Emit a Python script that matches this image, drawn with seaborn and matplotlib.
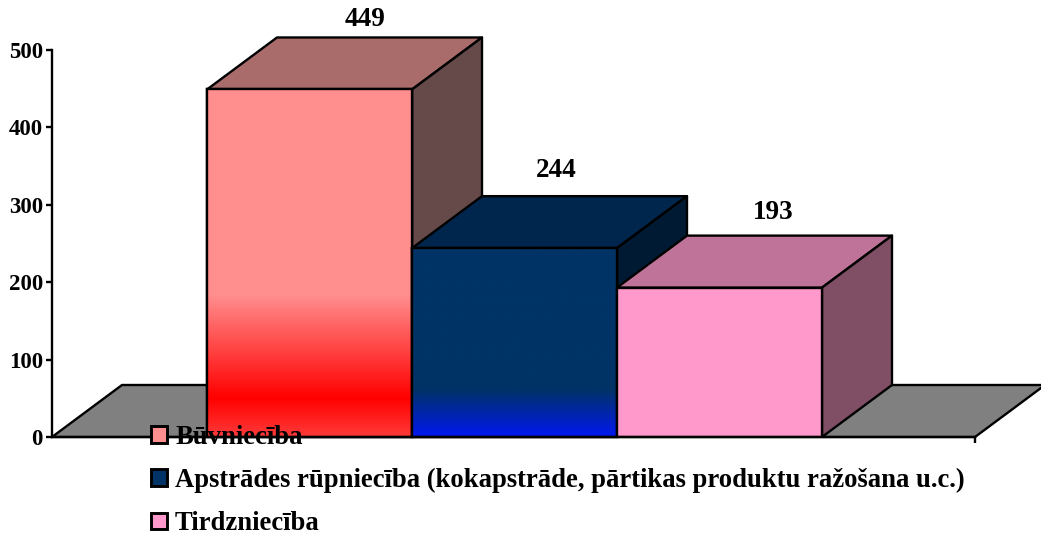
import numpy as np
import pandas as pd
import matplotlib
matplotlib.use("Agg")
import matplotlib.pyplot as plt
from matplotlib.colors import LinearSegmentedColormap, to_rgb
from matplotlib.patches import Polygon, Rectangle
import seaborn as sns

categories = ["Būvniecība",
              "Apstrādes rūpniecība (kokapstrāde, pārtikas produktu ražošana u.c.)",
              "Tirdzniecība"]
values = [449, 244, 193]
y_ticks = [0, 100, 200, 300, 400, 500]

front_colors = ["#FF8F8F", "#003366", "#FF99CC"]
top_colors = ["#AA6B6B", "#00264D", "#BF7399"]
side_colors = ["#664A4A", "#001A33", "#804F66"]
gradients = [[(0.0, "#FF3A3A"), (0.11, "#FF0000"), (0.41, "#FF8F8F"), (1.0, "#FF8F8F")],
             [(0.0, "#0018F0"), (0.25, "#003366"), (1.0, "#003366")],
             None]
label_offsets = [(56, 70), (42, 78), (54, 75)]

W, H = 1041, 536
LEFT, RIGHT, BASE, TOP = 52, 975, 437, 50
BAR_PX = 205
CENTER0 = 309.5
DEPTH_X_PX, DEPTH_Y_PX = 70, 52
LW = 1.7

sns.set_theme(style="white")
plt.rcParams["font.family"] = ["Liberation Serif", "DejaVu Serif"]
plt.rcParams["font.weight"] = "bold"
plt.rcParams["text.color"] = "black"

fig = plt.figure(figsize=(W / 100, H / 100), dpi=100, facecolor="white")
ax = fig.add_axes([LEFT / W, 1 - BASE / H, (RIGHT - LEFT) / W, (BASE - TOP) / H])
ax.patch.set_alpha(0)

df = pd.DataFrame({"cat": categories, "val": values})
sns.barplot(data=df, x="cat", y="val", hue="cat", order=categories, hue_order=categories,
            palette=front_colors, width=1.0, dodge=False, legend=False, ax=ax,
            saturation=1, edgecolor="black", linewidth=LW)

bars = sorted([b for b in ax.patches if b.get_height() > 0], key=lambda p: p.get_x())

xlim = ((LEFT - CENTER0) / BAR_PX, (RIGHT - CENTER0) / BAR_PX)
ylim = (0, 500)
dx = DEPTH_X_PX / BAR_PX
dy = DEPTH_Y_PX * 500 / (BASE - TOP)

# floor
ax.add_patch(Polygon([(xlim[0], 0), (xlim[0] + dx, dy), (xlim[1] + dx, dy), (xlim[1], 0)],
                     closed=True, fc="#808080", ec="black", lw=LW, clip_on=False, zorder=1))

for i, bar in enumerate(bars):
    x0, w, h = bar.get_x(), bar.get_width(), bar.get_height()
    z = 2 + i * 3
    ax.add_patch(Polygon([(x0, h), (x0 + dx, h + dy), (x0 + w + dx, h + dy), (x0 + w, h)],
                         closed=True, fc=top_colors[i], ec="black", lw=LW, clip_on=False,
                         joinstyle="round", zorder=z))
    ax.add_patch(Polygon([(x0 + w, 0), (x0 + w + dx, dy), (x0 + w + dx, h + dy), (x0 + w, h)],
                         closed=True, fc=side_colors[i], ec="black", lw=LW, clip_on=False,
                         joinstyle="round", zorder=z))
    bar.set_zorder(z + 0.5)
    if gradients[i] is not None:
        stops = [(p, to_rgb(c)) for p, c in gradients[i]]
        cmap = LinearSegmentedColormap.from_list(f"g{i}", stops)
        grad = np.linspace(0, 1, 256).reshape(-1, 1)
        ax.imshow(grad, cmap=cmap, origin="lower", aspect="auto", extent=(x0, x0 + w, 0, h),
                  vmin=0, vmax=1, zorder=z + 0.6, interpolation="bilinear")
        ax.add_patch(Rectangle((x0, 0), w, h, fc="none", ec="black", lw=LW, zorder=z + 0.7,
                               clip_on=False))
    ox, oy = label_offsets[i]
    ax.annotate(str(values[i]), (x0 + w / 2, h), xytext=(ox, oy), textcoords="offset pixels",
                ha="center", va="center", fontsize=19.5, fontweight="bold", color="black",
                annotation_clip=False, zorder=30)

ax.set_xlim(xlim)
ax.set_ylim(ylim)
ax.set_xlabel("")
ax.set_ylabel("")
ax.set_yticks(y_ticks)
ax.set_yticklabels([str(v) for v in y_ticks], fontsize=16.5, fontweight="bold", color="black")
ax.set_xticks([xlim[1]])
ax.set_xticklabels([""])
ax.tick_params(axis="y", direction="out", length=4.5, width=LW, color="black", pad=2, left=True)
ax.tick_params(axis="x", direction="out", length=4.5, width=LW, color="black", bottom=True)
for s in ["top", "right"]:
    ax.spines[s].set_visible(False)
for s in ["left", "bottom"]:
    ax.spines[s].set_visible(True)
    ax.spines[s].set_color("black")
    ax.spines[s].set_linewidth(LW)
    ax.spines[s].set_zorder(20)

handles = [Rectangle((0, 0), 1, 1, fc=c, ec="black", lw=2.1) for c in front_colors]
leg = fig.legend(handles, categories, loc="upper left",
                 bbox_to_anchor=(151 / W, 1 - 425 / H), frameon=False,
                 handlelength=0.6, handleheight=0.6, handletextpad=0.3, labelspacing=0.68,
                 borderpad=0, borderaxespad=0, labelcolor="black",
                 prop={"family": "Liberation Serif", "weight": "bold", "size": 19.2})
leg.set_zorder(40)

fig.savefig("out.png", dpi=100, facecolor="white")
